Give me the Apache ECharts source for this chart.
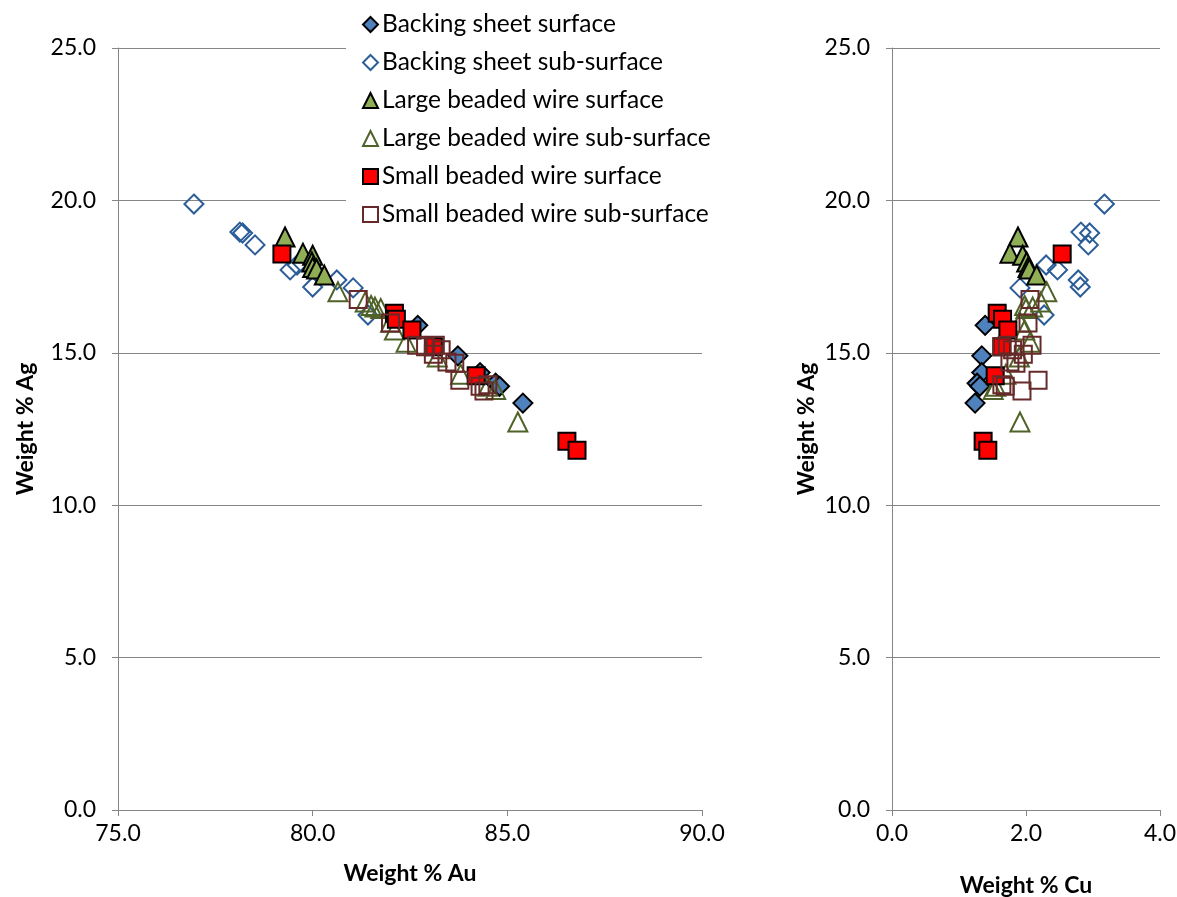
<!DOCTYPE html>
<html><head><meta charset="utf-8">
<script src="https://cdn.jsdelivr.net/npm/echarts@6/dist/echarts.min.js"></script>
<style>html,body{margin:0;padding:0;background:#fff}#c{width:1177px;height:897px}</style>
</head><body><div id="c"></div>
<script>
const seriesNames = ['Backing sheet surface','Backing sheet sub-surface','Large beaded wire surface','Large beaded wire sub-surface','Small beaded wire surface','Small beaded wire sub-surface'];
const yTicks = [0,5,10,15,20,25];

const bsSurfAu = [82.7, 83.73, 84.3, 84.7, 84.8, 85.4];
const bsSurfAg = [15.9, 14.9, 14.35, 14.0, 13.9, 13.35];
const bsSurfCu = [1.39, 1.34, 1.34, 1.27, 1.31, 1.24];

const bsSubAu = [76.95, 78.13, 78.2, 78.52, 79.6, 79.42, 80.62, 80.0, 81.04, 81.42];
const bsSubAg = [19.88, 18.96, 18.93, 18.54, 17.88, 17.72, 17.39, 17.16, 17.13, 16.24];
const bsSubCu = [3.17, 2.82, 2.95, 2.93, 2.3, 2.47, 2.78, 2.81, 1.91, 2.27];

const lbSurfAu = [79.29, 79.75, 80.0, 79.98, 80.0, 80.1, 80.3];
const lbSurfAg = [18.8, 18.27, 18.2, 17.98, 17.8, 17.75, 17.55];
const lbSurfCu = [1.88, 1.76, 1.95, 2.01, 2.03, 2.05, 2.16];

const lbSubAu = [80.65, 81.35, 81.5, 81.6, 81.75, 82.0, 82.1, 82.4, 83.2, 83.8, 84.5, 84.7, 85.27];
const lbSubAg = [17.0, 16.67, 16.55, 16.5, 16.45, 16.0, 15.75, 15.35, 14.86, 14.3, 13.9, 13.8, 12.73];
const lbSubCu = [2.31, 2.22, 1.98, 2.1, 2.0, 1.91, 1.98, 2.06, 1.9, 1.7, 1.55, 1.51, 1.91];

const sbSurfAu = [79.21, 82.1, 82.15, 82.55, 83.1, 84.2, 86.53, 86.79];
const sbSurfAg = [18.24, 16.3, 16.1, 15.75, 15.2, 14.25, 12.1, 11.8];
const sbSurfCu = [2.54, 1.57, 1.65, 1.73, 1.64, 1.54, 1.36, 1.43];

const sbSubAu = [81.17, 82.0, 82.67, 82.9, 83.15, 83.3, 83.1, 83.45, 83.65, 83.78, 84.3, 84.4, 84.5];
const sbSubAg = [16.75, 15.98, 15.25, 15.2, 15.25, 15.1, 14.95, 14.7, 14.66, 14.1, 13.9, 13.75, 13.95];
const sbSubCu = [2.06, 2.03, 2.09, 1.64, 1.72, 1.8, 1.96, 1.76, 1.85, 2.18, 1.69, 1.94, 1.64];

const groups = [
  {au: bsSurfAu, ag: bsSurfAg, cu: bsSurfCu, symbol: 'diamond', size: 19, style: {color: '#4F81BD', borderColor: '#000', borderWidth: 2, opacity: 1}},
  {au: bsSubAu, ag: bsSubAg, cu: bsSubCu, symbol: 'diamond', size: 19, style: {color: 'rgba(255,255,255,0)', borderColor: '#2B5D98', borderWidth: 2, opacity: 1}},
  {au: lbSurfAu, ag: lbSurfAg, cu: lbSurfCu, symbol: 'triangle', size: 19, style: {color: '#8FAE55', borderColor: '#000', borderWidth: 2, opacity: 1}},
  {au: lbSubAu, ag: lbSubAg, cu: lbSubCu, symbol: 'triangle', size: 19, style: {color: 'rgba(255,255,255,0)', borderColor: '#4F6228', borderWidth: 2, opacity: 1}},
  {au: sbSurfAu, ag: sbSurfAg, cu: sbSurfCu, symbol: 'rect', size: 17, style: {color: '#FF0000', borderColor: '#000', borderWidth: 2, opacity: 1}},
  {au: sbSubAu, ag: sbSubAg, cu: sbSubCu, symbol: 'rect', size: 17, style: {color: 'rgba(255,255,255,0)', borderColor: '#652A29', borderWidth: 2, opacity: 1}}
];

const FONT = 'Lato';
const series = [];
groups.forEach((g, i) => {
  series.push({name: seriesNames[i], type: 'scatter', xAxisIndex: 0, yAxisIndex: 0,
    symbol: g.symbol, symbolSize: g.size, itemStyle: g.style, z: 2 + i,
    data: g.au.map((v, k) => [v, g.ag[k]])});
  series.push({name: seriesNames[i], type: 'scatter', xAxisIndex: 1, yAxisIndex: 1,
    symbol: g.symbol, symbolSize: g.size, itemStyle: g.style, z: 2 + i,
    data: g.cu.map((v, k) => [v, g.ag[k]])});
});

const axisLineStyle = {show: true, lineStyle: {color: '#868686', width: 1}};
const labelStyle = {color: '#000', fontFamily: FONT, fontSize: 23, formatter: v => v.toFixed(1)};
const nameStyle = {color: '#000', fontFamily: FONT, fontSize: 23, fontWeight: 'bold'};

function yAxis(idx, gap) {
  return {type: 'value', gridIndex: idx, min: yTicks[0], max: yTicks[yTicks.length-1], interval: 5,
    name: 'Weight % Ag', nameLocation: 'middle', nameGap: gap, nameRotate: 90, nameTextStyle: nameStyle,
    axisLine: axisLineStyle, axisTick: {show: true, length: 6, lineStyle: {color: '#868686'}},
    axisLabel: Object.assign({margin: 22}, labelStyle),
    splitLine: {show: true, lineStyle: {color: '#868686', width: 1}}};
}

const chart = echarts.init(document.getElementById('c'), null, {renderer: 'canvas'});
chart.setOption({
  animation: false,
  backgroundColor: '#fff',
  grid: [
    {left: 118, top: 48, width: 584, height: 762, outerBoundsMode: 'none', containLabel: false},
    {left: 892, top: 48, width: 268, height: 762, outerBoundsMode: 'none', containLabel: false}
  ],
  xAxis: [
    {type: 'value', gridIndex: 0, min: 75, max: 90, interval: 5, name: 'Weight % Au', nameLocation: 'middle', nameGap: 52,
     nameTextStyle: nameStyle, axisLine: axisLineStyle, axisTick: {show: true, length: 6, lineStyle: {color: '#868686'}},
     axisLabel: Object.assign({margin: 12}, labelStyle), splitLine: {show: false}},
    {type: 'value', gridIndex: 1, min: 0, max: 4, interval: 2, name: 'Weight % Cu', nameLocation: 'middle', nameGap: 64,
     nameTextStyle: nameStyle, axisLine: axisLineStyle, axisTick: {show: true, length: 6, lineStyle: {color: '#868686'}},
     axisLabel: Object.assign({margin: 12}, labelStyle), splitLine: {show: false}}
  ],
  yAxis: [yAxis(0, 81), yAxis(1, 74)],
  legend: {
    data: seriesNames, orient: 'vertical', left: 346, top: 2, z: 20,
    backgroundColor: '#fff', padding: [10, 8, 10, 16], itemGap: 13, itemWidth: 15, itemHeight: 15,
    textStyle: {color: '#000', fontFamily: FONT, fontSize: 24.5, lineHeight: 25, padding: [0, 0, 0, -1]}
  },
  series: series
});
</script></body></html>
